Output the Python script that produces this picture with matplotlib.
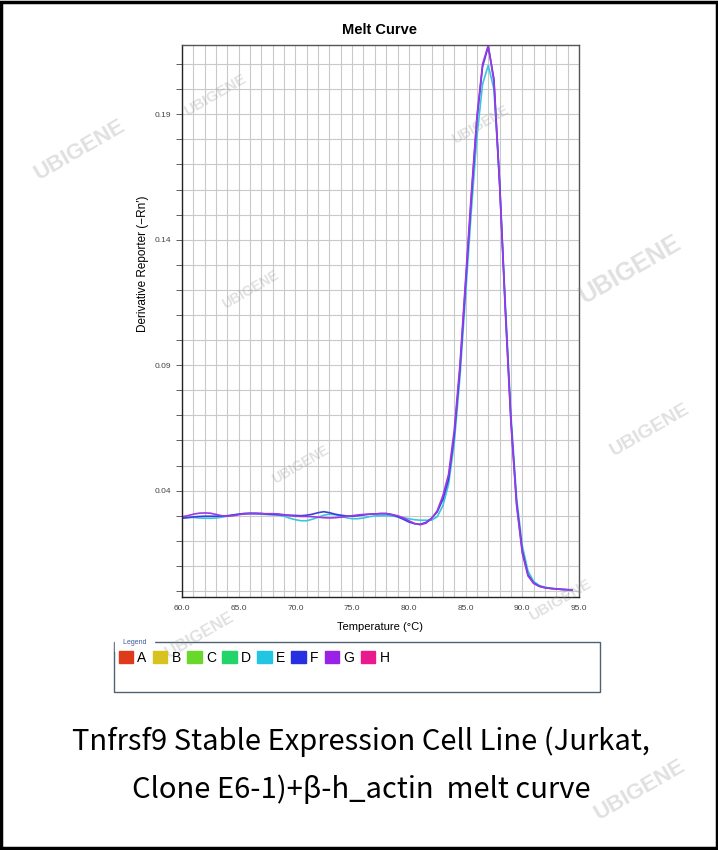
import matplotlib
matplotlib.use("Agg")
import matplotlib.pyplot as plt
from matplotlib.patches import Patch, Rectangle
from matplotlib.ticker import MultipleLocator, FixedLocator

# ---- data ----
temps = [60.0, 60.5, 61.0, 61.5, 62.0, 62.5, 63.0, 63.5, 64.0, 64.5,
         65.0, 65.5, 66.0, 66.5, 67.0, 67.5, 68.0, 68.5, 69.0, 69.5,
         70.0, 70.5, 71.0, 71.5, 72.0, 72.5, 73.0, 73.5, 74.0, 74.5,
         75.0, 75.5, 76.0, 76.5, 77.0, 77.5, 78.0, 78.5, 79.0, 79.5,
         80.0, 80.5, 81.0, 81.5, 82.0, 82.5, 83.0, 83.5, 84.0, 84.5,
         85.0, 85.5, 86.0, 86.5, 87.0, 87.5, 88.0, 88.5, 89.0, 89.5,
         90.0, 90.5, 91.0, 91.5, 92.0, 92.5, 93.0, 93.5, 94.0, 94.4]

# derivative reporter values x 1e-3
well_E = [29.6, 29.4, 29.3, 29.1, 29.0, 29.0, 29.1, 29.4, 29.8, 30.3,
          30.6, 30.8, 30.8, 30.7, 30.6, 30.5, 30.4, 30.3, 29.8, 29.0,
          28.4, 28.0, 28.0, 28.6, 29.4, 30.2, 30.6, 30.4, 29.8, 29.2,
          28.8, 28.8, 29.1, 29.6, 29.9, 30.0, 30.0, 29.9, 29.6, 29.2,
          28.8, 28.4, 28.2, 28.2, 28.2, 29.6, 34.0, 42.5, 59.0, 85.0,
          118, 151, 181, 202, 209.5, 200, 163, 115, 70, 37,
          18, 8.0, 3.8, 2.2, 1.5, 1.1, 0.9, 0.7, 0.5, 0.4]
well_F = [29.0, 29.2, 29.5, 29.7, 29.8, 29.8, 29.8, 29.9, 30.0, 30.3,
          30.6, 30.9, 31.0, 31.0, 30.9, 30.6, 30.5, 30.4, 30.3, 30.2,
          30.1, 30.0, 30.2, 30.6, 31.2, 31.6, 31.2, 30.6, 30.2, 29.9,
          29.8, 30.0, 30.3, 30.6, 30.7, 30.8, 30.8, 30.4, 29.6, 28.6,
          27.5, 26.8, 26.6, 27.3, 29.0, 31.5, 36.5, 44.5, 62.0, 88.0,
          122, 156, 188, 209, 217, 204, 163, 113, 68, 35,
          16, 6.5, 3.2, 1.9, 1.3, 1.0, 0.8, 0.6, 0.5, 0.4]
well_G = [29.6, 30.0, 30.6, 31.0, 31.1, 31.0, 30.5, 30.0, 29.8, 30.0,
          30.4, 30.7, 30.8, 30.8, 30.8, 30.8, 30.8, 30.7, 30.4, 30.0,
          29.8, 29.7, 29.7, 29.6, 29.4, 29.2, 29.1, 29.2, 29.4, 29.7,
          30.0, 30.3, 30.5, 30.6, 30.7, 30.9, 30.9, 30.5, 30.0, 29.2,
          28.0, 26.9, 26.4, 27.0, 28.8, 32.0, 38.0, 46.5, 64.0, 90.0,
          124, 158, 189, 210, 217.5, 203, 162, 112, 67, 34,
          15, 6.0, 3.0, 1.8, 1.3, 1.0, 0.8, 0.6, 0.5, 0.4]

legend_labels = ["A", "B", "C", "D", "E", "F", "G", "H"]
legend_colors = ["#e03a1c", "#d8c21e", "#6ad82a", "#22d46a",
                 "#22c6e2", "#2630e0", "#9a22e8", "#e81a8c"]
line_colors = {"E": "#3cc4dc", "F": "#3a3ee0", "G": "#9a3ae4"}

# ---- figure ----
W, H = 718, 850
fig = plt.figure(figsize=(W / 100, H / 100), dpi=100)
plt.rcParams["font.family"] = ["Liberation Sans", "DejaVu Sans"]

ax = fig.add_axes([182 / W, 1 - 597 / H, 397 / W, 552 / H])
for name, vals in [("E", well_E), ("F", well_F), ("G", well_G)]:
    ax.plot(temps, [v / 1000 for v in vals], color=line_colors[name], lw=1.2)

ax.set_xlim(60, 95)
ax.set_ylim(-0.0024, 0.2176)
ax.xaxis.set_major_locator(MultipleLocator(5))
ax.xaxis.set_minor_locator(MultipleLocator(1))
ax.yaxis.set_major_locator(FixedLocator([0.04, 0.09, 0.14, 0.19]))
ax.yaxis.set_minor_locator(MultipleLocator(0.01))
ax.xaxis.set_major_formatter(lambda v, p: f"{v:.1f}")
ax.yaxis.set_major_formatter(lambda v, p: f"{v:.2f}")
ax.grid(True, which="both", color="#c9c9c9", lw=0.8)
ax.set_axisbelow(True)
ax.tick_params(axis="both", which="both", labelsize=6, colors="#444444",
               length=4, width=0.6, direction="out")
ax.tick_params(axis="x", which="both", length=0, pad=6)
for s in ax.spines.values():
    s.set_color("#555555")
    s.set_linewidth(1.0)
ax.spines["left"].set_color("#222222")
ax.spines["bottom"].set_color("#222222")

fig.text(380 / W, 1 - 30 / H, "Melt Curve", ha="center", va="center",
         fontsize=10.5, fontweight="bold")
fig.text(143 / W, 1 - 264 / H, "Derivative Reporter (\u2212Rn\u2032)",
         ha="center", va="center", rotation=90, fontsize=8.5)
fig.text(380 / W, 1 - 627 / H, "Temperature (\u00b0C)", ha="center",
         va="center", fontsize=8)

# legend box
fig.patches.append(Rectangle((114 / W, 1 - 692 / H), 486 / W, 50 / H,
                             transform=fig.transFigure, fill=False,
                             edgecolor="#4d6272", lw=1.0))
fig.text(121 / W, 1 - 642 / H, " Legend ", ha="left", va="center",
         fontsize=5, color="#3a5a9a", backgroundcolor="white")
handles = [Patch(facecolor=c, edgecolor=c) for c in legend_colors]
fig.legend(handles, legend_labels, ncol=8, loc="center left",
           bbox_to_anchor=(113 / W, 1 - 658 / H), frameon=False,
           fontsize=10, handlelength=1.05, handleheight=0.9,
           handletextpad=0.3, columnspacing=0.45, borderaxespad=0)

# caption
cap_font = ["Noto Sans CJK SC", "DejaVu Sans"]
fig.text(361 / W, 1 - 742 / H, "Tnfrsf9 Stable Expression Cell Line (Jurkat,",
         ha="center", va="center", fontsize=21, family=cap_font)
fig.text(361 / W, 1 - 790 / H, "Clone E6-1)+\u03b2-h_actin  melt curve",
         ha="center", va="center", fontsize=21, family=cap_font)

# watermarks
marks = [(215, 95, 11), (480, 125, 10), (250, 290, 10), (300, 465, 10),
         (630, 270, 18), (80, 150, 16), (200, 635, 12), (560, 600, 11),
         (640, 790, 16), (650, 430, 14)]
for mx, my, fs in marks:
    fig.text(mx / W, 1 - my / H, "UBIGENE", ha="center", va="center",
             rotation=30, fontsize=fs, color="#9a9a9a", alpha=0.3,
             fontweight="bold")

# outer frame
fig.patches.append(Rectangle((0.002, 0.002), 0.996, 0.996,
                             transform=fig.transFigure, fill=False,
                             edgecolor="black", lw=2.5))

fig.savefig("out.png", dpi=100)
